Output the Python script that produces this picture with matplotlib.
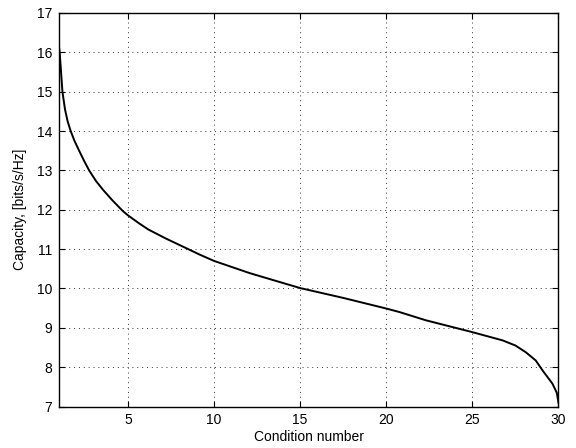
import matplotlib
matplotlib.use("Agg")
import matplotlib.pyplot as plt

cond_number = [1.0, 1.04, 1.12, 1.2, 1.35, 1.5, 1.68, 1.9, 2.16, 2.45, 2.75,
               3.15, 3.57, 4.1, 4.7, 5.0, 5.6, 6.18, 7.2, 8.5, 9.17, 10.0,
               12.07, 15.0, 17.5, 20.0, 20.77, 22.31, 25.0, 26.76, 27.5,
               28.1, 28.68, 29.07, 29.65, 29.9, 30.0]
capacity = [16.14, 16.0, 15.5, 15.0, 14.55, 14.25, 14.0, 13.75, 13.51, 13.25, 13.0,
            12.73, 12.5, 12.24, 11.97, 11.86, 11.67, 11.50, 11.27, 11.0, 10.86, 10.70,
            10.39, 10.01, 9.76, 9.49, 9.40, 9.19, 8.89, 8.68, 8.55,
            8.38, 8.17, 7.92, 7.58, 7.35, 7.1]

xticks = [5, 10, 15, 20, 25, 30]
yticks = [7, 8, 9, 10, 11, 12, 13, 14, 15, 16, 17]

plt.rcParams['font.family'] = ['Liberation Sans', 'DejaVu Sans']
fig = plt.figure(figsize=(5.76, 4.48), dpi=100)
ax = fig.add_axes([0.1024, 0.0926, 0.8672, 0.8784])
ax.plot(cond_number, capacity, color='black', linewidth=1.4)
ax.set_xlim(1, 30)
ax.set_ylim(7, 17)
ax.set_xticks(xticks)
ax.set_yticks(yticks)
ax.tick_params(direction='in', top=True, right=True, labelsize=10, length=4, width=0.8, pad=5)
ax.grid(True, color='black', linestyle=(0, (1, 4)), linewidth=0.7, alpha=0.8)
for s in ax.spines.values():
    s.set_linewidth(1.0)
ax.set_xlabel('Condition number', fontsize=10, labelpad=2)
ax.set_ylabel('Capacity, [bits/s/Hz]', fontsize=10, labelpad=7)
fig.savefig('out.png', dpi=100)
